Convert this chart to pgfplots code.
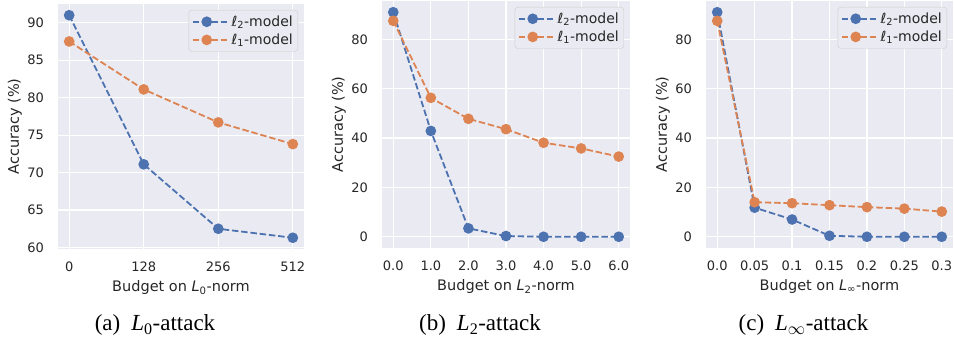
\documentclass[border=0pt]{standalone}
\usepackage{fontspec}
\setmainfont{DejaVu Sans}
\newfontfamily\capfont{Liberation Serif}
\usepackage{pgfplots}
\pgfplotsset{compat=1.18}
\usetikzlibrary{calc}

\definecolor{sbblue}{HTML}{4C72B0}
\definecolor{sborange}{HTML}{DD8452}
\definecolor{sbbg}{HTML}{EAEAF2}
\definecolor{sbtext}{HTML}{262626}

\pgfplotsset{
  sbaxis/.style={
    scale only axis,
    anchor=south west,
    axis background/.style={fill=sbbg},
    axis line style={draw=none},
    major tick length=0pt,
    grid=major,
    major grid style={white, line width=1.2pt},
    /pgf/number format/assume math mode=true,
    tick label style={font=\fontsize{13}{15}\selectfont, text=sbtext, inner sep=0pt},
    xticklabel shift=13pt,
    yticklabel shift=14pt,
    label style={font=\fontsize{14.5}{17}\selectfont, text=sbtext, inner sep=0pt},
    xlabel style={at={(axis description cs:0.5,0)}, anchor=north, yshift=-31.5pt},
    ylabel style={at={($(axis description cs:0,0.5)+(-36pt,0)$)}, anchor=south},
    ylabel={Accuracy (\%)},
    xtick=data,
    legend style={at={(axis description cs:1,1)}, anchor=north east,
      xshift=-6pt, yshift=-6pt, draw=black!20, fill=sbbg, rounded corners=3pt,
      font=\fontsize{14}{16}\selectfont, text=sbtext,
      inner xsep=3pt, inner ysep=3.5pt, row sep=2pt,
      nodes={inner sep=2pt}},
    legend cell align=left,
    legend image code/.code={%
      \draw[mark repeat=2, mark phase=2] plot coordinates {(0pt,0pt) (14pt,0pt) (28pt,0pt)};
      \path (28pt,0pt) -- (36pt,0pt);},
  },
  sbline/.style={color=#1, line width=1.8pt, dash pattern=on 6.5pt off 2.8pt,
    mark=*, mark size=4.4pt, mark options={solid, fill=#1, draw=none}},
}

\begin{document}
\begin{tikzpicture}
\path[use as bounding box] (0pt,0pt) rectangle (954pt,339pt);

% (a) L0 attack
\begin{axis}[sbaxis, at={(58pt,90pt)}, width=246pt, height=245pt,
  xmin=-0.15, xmax=3.15, ymin=59.8, ymax=92.5,
  xticklabels={0,128,256,512},
  ytick={60,65,70,75,80,85,90},
  xlabel={Budget on \textit{L}\textsubscript{0}-norm}]
\addplot[sbline=sbblue] coordinates {(0,91.0) (1,71.1) (2,62.5) (3,61.3)};
\addlegendentry{ℓ\textsubscript{2}-model}
\addplot[sbline=sborange] coordinates {(0,87.5) (1,81.1) (2,76.7) (3,73.8)};
\addlegendentry{ℓ\textsubscript{1}-model}
\end{axis}

% (b) L2 attack
\begin{axis}[sbaxis, at={(382pt,91pt)}, width=248pt, height=247pt,
  xmin=-0.3, xmax=6.3, ymin=-4.55, ymax=95.55,
  xticklabels={0.0,1.0,2.0,3.0,4.0,5.0,6.0},
  ytick={0,20,40,60,80},
  xlabel={Budget on \textit{L}\textsubscript{2}-norm}]
\addplot[sbline=sbblue] coordinates {(0,91.0) (1,42.9) (2,3.4) (3,0.3) (4,0.0) (5,0.0) (6,0.0)};
\addlegendentry{ℓ\textsubscript{2}-model}
\addplot[sbline=sborange] coordinates {(0,87.5) (1,56.3) (2,47.8) (3,43.6) (4,38.1) (5,35.8) (6,32.5)};
\addlegendentry{ℓ\textsubscript{1}-model}
\end{axis}

% (c) Linf attack
\begin{axis}[sbaxis, at={(706pt,91pt)}, width=247pt, height=247pt,
  xmin=-0.3, xmax=6.3, ymin=-4.55, ymax=95.55,
  xticklabels={0.0,0.05,0.1,0.15,0.2,0.25,0.3},
  ytick={0,20,40,60,80},
  xlabel={Budget on \textit{L}\textsubscript{∞}-norm}]
\addplot[sbline=sbblue] coordinates {(0,91.0) (1,11.8) (2,7.0) (3,0.4) (4,0.0) (5,0.0) (6,0.0)};
\addlegendentry{ℓ\textsubscript{2}-model}
\addplot[sbline=sborange] coordinates {(0,87.5) (1,14.0) (2,13.6) (3,12.8) (4,12.0) (5,11.4) (6,10.2)};
\addlegendentry{ℓ\textsubscript{1}-model}
\end{axis}

% subfigure captions
\begin{scope}[every node/.style={anchor=base, font=\capfont\fontsize{23}{27}\selectfont}]
\node at (155pt,8pt) {(a)\hspace{11pt}\textit{L}\textsubscript{0}-attack};
\node at (480pt,8pt) {(b)\hspace{11pt}\textit{L}\textsubscript{2}-attack};
\node at (803.5pt,8pt) {(c)\hspace{11pt}\textit{L}\textsubscript{$\infty$}-attack};
\end{scope}
\end{tikzpicture}
\end{document}
